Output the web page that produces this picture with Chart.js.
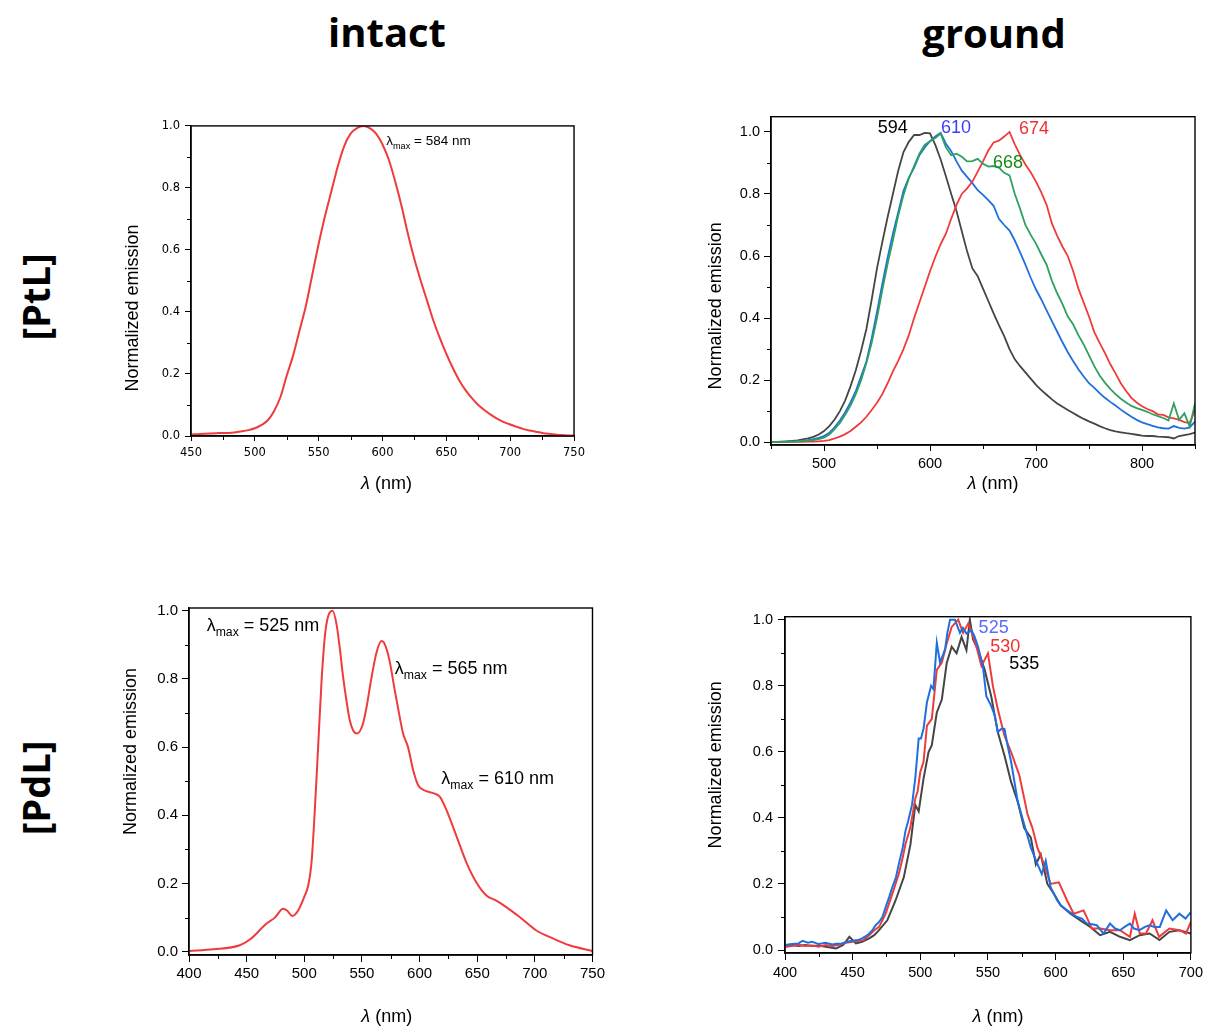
<!DOCTYPE html>
<html>
<head>
<meta charset="utf-8">
<script src="https://cdn.jsdelivr.net/npm/chart.js@4.4.0/dist/chart.umd.min.js"></script>
<style>
body { margin: 0; background: #fff; }
#page { position: relative; width: 1209px; height: 1030px; overflow: hidden; }
.head { position: absolute; font-family: "Open Sans", sans-serif; font-weight: 700; font-size: 40px; line-height: 1; transform: translate(-50%, -50%); white-space: nowrap; }
.row { position: absolute; font-family: "Open Sans", sans-serif; font-weight: 700; font-size: 38px; line-height: 1; transform: translate(-50%, -50%) rotate(-90deg); white-space: nowrap; }
canvas { position: absolute; }
</style>
</head>
<body>
<div id="page">
  <div class="head" style="left:387px;top:32px">intact</div>
  <div class="head" style="left:994px;top:33px">ground</div>
  <div class="row" style="left:35px;top:297px">[PtL]</div>
  <div class="row" style="left:35px;top:788px">[PdL]</div>
  <canvas id="c1" width="479" height="384" style="left:111px;top:114px"></canvas>
  <canvas id="c2" width="516" height="403" style="left:691px;top:104px"></canvas>
  <canvas id="c3" width="499" height="435" style="left:109px;top:595px"></canvas>
  <canvas id="c4" width="502" height="427" style="left:705px;top:603px"></canvas>
</div>
<script>
// ---- data ----
// [PtL] intact
const ptIntactNm = [450,455,460,465,470,475,480,485,490,495,500,505,510,515,520,525,530,535,540,545,550,555,560,565,570,575,580,585,590,595,600,605,610,615,620,625,630,635,640,645,650,655,660,665,670,675,680,685,690,695,700,705,710,715,720,725,730,735,740,745,750];
const ptIntactVal = [0.005,0.006,0.007,0.008,0.009,0.010,0.010,0.012,0.015,0.019,0.025,0.035,0.05,0.08,0.125,0.195,0.26,0.34,0.42,0.52,0.62,0.71,0.79,0.87,0.935,0.975,0.993,1.0,0.993,0.975,0.94,0.89,0.82,0.74,0.65,0.57,0.50,0.435,0.37,0.315,0.265,0.22,0.18,0.148,0.122,0.10,0.083,0.068,0.055,0.045,0.037,0.03,0.023,0.018,0.014,0.01,0.007,0.005,0.003,0.002,0.002];

// [PtL] ground
const ptGroundNm = [450,455,460,465,470,475,480,485,490,495,500,505,510,515,520,525,530,535,540,545,550,555,560,565,570,575,580,585,590,595,600,605,610,615,620,625,630,635,640,645,650,655,660,665,670,675,680,685,690,695,700,705,710,715,720,725,730,735,740,745,750,755,760,765,770,775,780,785,790,795,800,805,810,815,820,825,830,835,840,845,850];
const ptGroundBlack = [0.000,0.001,0.002,0.003,0.004,0.006,0.009,0.012,0.017,0.025,0.036,0.052,0.073,0.10,0.135,0.18,0.232,0.295,0.365,0.46,0.56,0.645,0.725,0.80,0.875,0.935,0.968,0.99,0.99,0.997,0.995,0.958,0.912,0.857,0.80,0.745,0.68,0.615,0.56,0.535,0.495,0.455,0.415,0.377,0.342,0.30,0.267,0.245,0.225,0.205,0.185,0.168,0.153,0.138,0.125,0.114,0.104,0.094,0.084,0.075,0.067,0.06,0.052,0.045,0.039,0.035,0.032,0.029,0.027,0.024,0.021,0.02,0.02,0.018,0.017,0.016,0.012,0.02,0.023,0.026,0.031];
const ptGroundBlue = [0.000,0.000,0.001,0.002,0.003,0.004,0.005,0.007,0.01,0.014,0.02,0.03,0.048,0.07,0.097,0.128,0.165,0.212,0.26,0.335,0.42,0.51,0.595,0.672,0.74,0.81,0.852,0.885,0.925,0.95,0.97,0.985,0.997,0.962,0.938,0.905,0.875,0.855,0.835,0.812,0.797,0.78,0.762,0.72,0.70,0.682,0.65,0.612,0.572,0.53,0.492,0.46,0.425,0.39,0.356,0.322,0.29,0.262,0.235,0.212,0.19,0.175,0.158,0.143,0.13,0.118,0.105,0.093,0.082,0.072,0.064,0.058,0.053,0.048,0.045,0.044,0.052,0.046,0.044,0.048,0.066];
const ptGroundGreen = [0.000,0.000,0.001,0.001,0.002,0.003,0.004,0.005,0.007,0.01,0.015,0.025,0.042,0.062,0.088,0.118,0.155,0.2,0.255,0.32,0.4,0.49,0.575,0.65,0.73,0.797,0.85,0.89,0.93,0.958,0.97,0.98,0.995,0.95,0.925,0.93,0.92,0.905,0.906,0.913,0.897,0.888,0.89,0.885,0.868,0.86,0.8,0.752,0.7,0.668,0.64,0.605,0.572,0.52,0.48,0.445,0.405,0.38,0.345,0.315,0.28,0.245,0.215,0.192,0.172,0.155,0.14,0.128,0.117,0.11,0.104,0.098,0.09,0.084,0.078,0.07,0.125,0.072,0.093,0.05,0.125];
const ptGroundRed = [0.000,0.000,0.000,0.000,0.001,0.001,0.001,0.002,0.002,0.003,0.004,0.007,0.012,0.018,0.026,0.036,0.05,0.064,0.082,0.104,0.127,0.155,0.19,0.228,0.262,0.3,0.345,0.4,0.45,0.5,0.551,0.597,0.638,0.672,0.72,0.765,0.8,0.818,0.84,0.872,0.905,0.94,0.966,0.972,0.985,1.0,0.96,0.925,0.895,0.87,0.84,0.805,0.765,0.705,0.665,0.63,0.6,0.552,0.495,0.45,0.405,0.355,0.32,0.288,0.252,0.222,0.19,0.165,0.143,0.128,0.116,0.107,0.1,0.09,0.088,0.08,0.077,0.072,0.065,0.062,0.103];

// [PdL] intact
const pdIntactNm = [400,421,444,454,467,474.5,481.7,485,489.5,494.7,500.5,503.4,506.3,509,512,515,518,520.7,524.5,528,530.8,533.7,536.6,539.5,542.4,545.8,550.5,554,558.3,562.6,567,569.8,574,578.5,582.8,585.7,590,594.4,598.7,603,611.7,617.5,623.2,632,640.6,649.3,658,666.6,675.2,686.8,701,715.7,730,750];
const pdIntactVal = [0.002,0.007,0.019,0.039,0.082,0.10,0.126,0.121,0.105,0.121,0.165,0.194,0.262,0.407,0.60,0.795,0.93,0.984,1.0,0.96,0.89,0.805,0.736,0.678,0.649,0.64,0.664,0.717,0.804,0.877,0.911,0.902,0.853,0.766,0.688,0.64,0.60,0.533,0.489,0.475,0.465,0.455,0.417,0.339,0.262,0.203,0.165,0.150,0.131,0.102,0.063,0.039,0.019,0.002];

// [PdL] ground
const pdGroundBlueNm = [400,405,410,413,417,420,425,430,435,438,442,446,450,454,457,461,464.6,467,469.5,472,474.4,477,479.3,482,484.1,487,489,491,493.9,496.3,498.8,500.5,502.4,504.9,508,509.7,512.2,514.6,518.3,520,522,525.6,529.3,531.5,534.1,537.8,540,542.7,546.3,548.8,552.4,555,557.3,560,562.2,564.5,567.1,572,576.8,581.7,586.6,589.8,592.7,596.3,601.2,604,608.5,612,615.9,619.5,623.2,627,630.5,635.4,640.2,644,647.6,651,654.9,658,662,666,669.5,673,677,681.7,686.5,691.5,696,700];
const pdGroundBlueVal = [0.015,0.018,0.02,0.028,0.022,0.025,0.018,0.022,0.017,0.019,0.02,0.025,0.028,0.03,0.035,0.045,0.06,0.075,0.085,0.1,0.13,0.16,0.19,0.22,0.26,0.31,0.36,0.39,0.44,0.52,0.64,0.64,0.67,0.75,0.80,0.79,0.93,0.87,0.91,0.96,1.0,1.0,0.96,0.975,0.958,0.968,0.95,0.918,0.858,0.768,0.739,0.71,0.66,0.67,0.669,0.62,0.57,0.45,0.38,0.31,0.26,0.23,0.27,0.19,0.15,0.135,0.12,0.11,0.10,0.095,0.08,0.078,0.075,0.05,0.08,0.065,0.06,0.07,0.08,0.065,0.06,0.07,0.075,0.07,0.07,0.12,0.09,0.11,0.095,0.115];
const pdGroundRedNm = [400,405,410,415,420,425,430,435,440,445,450,455,458,462.2,466,469.5,472,474.4,479.3,484.1,487,489,492.6,496.3,498,500,502.4,504.9,508.5,512.2,515.9,519.5,523.2,528,531.6,535.4,539,541.5,545.2,550,553.7,557.3,562.2,567.1,573.2,576.8,579.3,582.9,586.6,591.5,596.3,602.4,608.5,613.4,620.7,626.8,633,640.2,647.6,654.9,658.5,662.2,666.8,671.6,676.5,684.1,691.5,696.3,700];
const pdGroundRedVal = [0.01,0.012,0.016,0.012,0.014,0.01,0.015,0.012,0.016,0.022,0.025,0.028,0.03,0.045,0.06,0.07,0.09,0.11,0.17,0.23,0.28,0.32,0.37,0.459,0.48,0.539,0.57,0.679,0.70,0.848,0.87,0.928,0.978,1.0,0.96,0.988,0.95,0.918,0.86,0.898,0.798,0.729,0.649,0.599,0.529,0.459,0.41,0.369,0.309,0.259,0.20,0.205,0.15,0.11,0.12,0.065,0.065,0.06,0.06,0.04,0.11,0.05,0.05,0.09,0.04,0.065,0.06,0.05,0.085];
const pdGroundBlackNm = [400,405,410,415,420,425,430,437.8,443,447.6,452.4,457,462.2,466,469.5,475.6,481.7,487.8,492.7,496.3,498.8,502.4,506.1,508.5,512.2,515.9,519.5,523.2,526.8,530.5,534.1,536.6,539,542.7,547.6,552.4,557.3,562.2,567.1,572,576.8,581.7,585.4,589,593.9,598.8,603.7,611,618.3,625.6,632.9,640.2,647.6,654.9,662.2,669.5,676.8,684.1,691.5,700];
const pdGroundBlackVal = [0.01,0.015,0.012,0.015,0.012,0.014,0.01,0.005,0.015,0.04,0.02,0.025,0.035,0.045,0.06,0.09,0.15,0.22,0.319,0.439,0.42,0.519,0.599,0.62,0.719,0.758,0.868,0.918,0.898,0.948,0.908,1.0,0.94,0.908,0.848,0.768,0.659,0.589,0.509,0.449,0.369,0.34,0.259,0.29,0.20,0.17,0.135,0.11,0.09,0.07,0.045,0.055,0.04,0.03,0.045,0.05,0.03,0.055,0.06,0.05];

// ticks
const yTicks = [0, 0.2, 0.4, 0.6, 0.8, 1.0];
const yMinor = [0.1, 0.3, 0.5, 0.7, 0.9];
const ptIntactXTicks = [450, 500, 550, 600, 650, 700, 750];
const ptIntactXMinor = [475, 525, 575, 625, 675, 725];
const ptGroundXTicks = [500, 600, 700, 800];
const ptGroundXMinor = [450, 550, 650, 750, 850];
const pdIntactXTicks = [400, 450, 500, 550, 600, 650, 700, 750];
const pdIntactXMinor = [425, 475, 525, 575, 625, 675, 725];
const pdGroundXTicks = [400, 450, 500, 550, 600, 650, 700];
const pdGroundXMinor = [425, 475, 525, 575, 625, 675];

// peak labels (x in nm, y in normalized units)
const ptIntactNotes = [{x: 602.9, y: 0.938, lead: 'λ', sub: 'max', text: ' = 584 nm', color: '#000', size: 13.5}];
const ptGroundNotes = [
  {x: 564.8, y: 0.995, text: '594', color: '#000', size: 18},
  {x: 624.5, y: 0.998, text: '610', color: '#3c3cff', size: 18},
  {x: 698.1, y: 0.992, text: '674', color: '#f03030', size: 18},
  {x: 673.6, y: 0.883, text: '668', color: '#168a16', size: 18}
];
const pdIntactNotes = [
  {x: 415.3, y: 0.940, lead: 'λ', sub: 'max', text: ' = 525 nm', color: '#000', size: 18},
  {x: 578.5, y: 0.814, lead: 'λ', sub: 'max', text: ' = 565 nm', color: '#000', size: 18},
  {x: 618.9, y: 0.492, lead: 'λ', sub: 'max', text: ' = 610 nm', color: '#000', size: 18}
];
const pdGroundNotes = [
  {x: 554.2, y: 0.960, text: '525', color: '#5a6aff', size: 18},
  {x: 562.8, y: 0.903, text: '530', color: '#f03030', size: 18},
  {x: 576.9, y: 0.851, text: '535', color: '#000', size: 18}
];

const RED = '#ef3b3b', BLUE = '#1f6fde', GREEN = '#2ea15e', BLACK = '#454545';
const SANS = '"Liberation Sans", Arial, sans-serif';
Chart.defaults.font.family = SANS;

function series(nm, vals) {
  return nm.map((x, i) => ({x: x, y: vals[i]}));
}

// box, minor ticks, axis titles and peak labels
const framePlugin = {
  id: 'frame',
  afterDraw(chart, args, o) {
    const ctx = chart.ctx, a = chart.chartArea;
    const sx = chart.scales.x, sy = chart.scales.y;
    ctx.save();
    ctx.strokeStyle = '#000';
    ctx.lineWidth = 1;
    ctx.beginPath();
    o.minorX.forEach(v => {
      const p = Math.round(sx.getPixelForValue(v)) + 0.5;
      ctx.moveTo(p, a.bottom); ctx.lineTo(p, a.bottom + 4);
    });
    o.minorY.forEach(v => {
      const p = Math.round(sy.getPixelForValue(v)) + 0.5;
      ctx.moveTo(a.left, p); ctx.lineTo(a.left - 4, p);
    });
    ctx.stroke();
    ctx.lineWidth = 1.4;
    ctx.strokeRect(a.left, a.top, a.right - a.left, a.bottom - a.top);

    // y title
    ctx.fillStyle = '#000';
    ctx.font = o.yFont + 'px ' + SANS;
    ctx.textAlign = 'center';
    ctx.textBaseline = 'middle';
    ctx.save();
    ctx.translate(a.left + o.yDx, (a.top + a.bottom) / 2 + o.yDy);
    ctx.rotate(-Math.PI / 2);
    ctx.fillText('Normalized emission', 0, 0);
    ctx.restore();

    // x title, italic lambda
    const xf = o.xFont;
    ctx.font = 'italic ' + xf + 'px ' + SANS;
    const w1 = ctx.measureText('λ').width;
    ctx.font = xf + 'px ' + SANS;
    const w2 = ctx.measureText(' (nm)').width;
    const x0 = (a.left + a.right) / 2 + o.xDx - (w1 + w2) / 2;
    const yT = a.bottom + o.xDy;
    ctx.textAlign = 'left';
    ctx.font = 'italic ' + xf + 'px ' + SANS;
    ctx.fillText('λ', x0, yT);
    ctx.font = xf + 'px ' + SANS;
    ctx.fillText(' (nm)', x0 + w1, yT);

    // peak labels
    ctx.textBaseline = 'alphabetic';
    o.notes.forEach(n => {
      const px = sx.getPixelForValue(n.x), py = sy.getPixelForValue(n.y);
      const f = n.size + 'px ' + SANS;
      ctx.fillStyle = n.color;
      if (n.sub) {
        ctx.textAlign = 'left';
        ctx.font = f;
        ctx.fillText(n.lead, px, py);
        let w = ctx.measureText(n.lead).width;
        ctx.font = (n.size * 0.68) + 'px ' + SANS;
        ctx.fillText(n.sub, px + w, py + n.size * 0.28);
        w += ctx.measureText(n.sub).width;
        ctx.font = f;
        ctx.fillText(n.text, px + w, py);
      } else {
        ctx.textAlign = 'center';
        ctx.font = f;
        ctx.fillText(n.text, px, py);
      }
    });
    ctx.restore();
  }
};

function axis(p, horizontal) {
  return {
    type: 'linear',
    min: p.min, max: p.max,
    afterBuildTicks: s => { s.ticks = p.ticks.map(v => ({value: v})); },
    afterFit: s => { if (horizontal) s.height = p.size; else s.width = p.size; },
    ticks: {
      callback: p.fmt, color: '#000', padding: p.pad, maxRotation: 0, autoSkip: false,
      font: {family: p.family || SANS, size: p.font}
    },
    grid: {drawOnChartArea: false, drawTicks: true, tickLength: p.tick, tickColor: '#000', tickWidth: 1},
    border: {display: true, color: '#000', width: 1.4},
    title: {display: false}
  };
}

function makePanel(id, cfg) {
  return new Chart(document.getElementById(id), {
    type: 'line',
    data: {datasets: cfg.datasets.map(d => ({
      data: d.data, borderColor: d.color, borderWidth: cfg.lineWidth, pointRadius: 0,
      fill: false, tension: cfg.smooth ? 0.3 : 0, cubicInterpolationMode: cfg.smooth ? 'monotone' : 'default'
    }))},
    options: {
      responsive: false, animation: false, devicePixelRatio: 1,
      layout: {padding: {left: 0, top: cfg.padTop, right: cfg.padRight, bottom: 0}, autoPadding: false},
      plugins: {legend: {display: false}, tooltip: {enabled: false}, frame: cfg.frame},
      scales: {x: axis(cfg.x, true), y: axis(cfg.y, false)}
    },
    plugins: [framePlugin]
  });
}

const fmtY = v => v.toFixed(1);
const fmtX = v => String(v);

makePanel('c1', {
  smooth: true, lineWidth: 2, padTop: 10, padRight: 15,
  datasets: [{data: series(ptIntactNm, ptIntactVal), color: RED}],
  x: {min: 450, max: 750, ticks: ptIntactXTicks, fmt: fmtX, font: 11.5, family: '"DejaVu Sans", sans-serif', pad: 5, tick: 5, size: 62},
  y: {min: 0, max: 1.0, ticks: yTicks, fmt: fmtY, font: 11.5, family: '"DejaVu Sans", sans-serif', pad: 5, tick: 6, size: 80},
  frame: {minorX: ptIntactXMinor, minorY: yMinor, yFont: 18, yDx: -58, yDy: 27, xFont: 18, xDx: 4, xDy: 48, notes: ptIntactNotes}
});

makePanel('c2', {
  smooth: false, lineWidth: 1.8, padTop: 10, padRight: 12,
  datasets: [
    {data: series(ptGroundNm, ptGroundGreen), color: GREEN},
    {data: series(ptGroundNm, ptGroundRed), color: RED},
    {data: series(ptGroundNm, ptGroundBlue), color: BLUE},
    {data: series(ptGroundNm, ptGroundBlack), color: BLACK}
  ],
  x: {min: 450, max: 850, ticks: ptGroundXTicks, fmt: fmtX, font: 14.5, pad: 4, tick: 6, size: 62},
  y: {min: -0.009, max: 1.049, ticks: yTicks, fmt: fmtY, font: 14.5, pad: 4, tick: 7, size: 80},
  frame: {minorX: ptGroundXMinor, minorY: yMinor, yFont: 18, yDx: -55, yDy: 25, xFont: 18, xDx: 10, xDy: 39, notes: ptGroundNotes}
});

makePanel('c3', {
  smooth: true, lineWidth: 2, padTop: 10, padRight: 15,
  datasets: [{data: series(pdIntactNm, pdIntactVal), color: RED}],
  x: {min: 400, max: 750, ticks: pdIntactXTicks, fmt: fmtX, font: 15, pad: 3, tick: 7, size: 75},
  y: {min: -0.0096, max: 1.008, ticks: yTicks, fmt: fmtY, font: 15, pad: 4, tick: 7, size: 80},
  frame: {minorX: pdIntactXMinor, minorY: yMinor, yFont: 18, yDx: -58, yDy: -30, xFont: 18, xDx: -4, xDy: 62, notes: pdIntactNotes}
});

makePanel('c4', {
  smooth: false, lineWidth: 2, padTop: 10, padRight: 12,
  datasets: [
    {data: series(pdGroundBlueNm, pdGroundBlueVal), color: BLUE},
    {data: series(pdGroundRedNm, pdGroundRedVal), color: RED},
    {data: series(pdGroundBlackNm, pdGroundBlackVal), color: BLACK}
  ],
  x: {min: 400, max: 700, ticks: pdGroundXTicks, fmt: fmtX, font: 14.5, pad: 4, tick: 7, size: 77},
  y: {min: -0.009, max: 1.009, ticks: yTicks, fmt: fmtY, font: 14.5, pad: 5, tick: 7, size: 80},
  frame: {minorX: pdGroundXMinor, minorY: yMinor, yFont: 18, yDx: -69, yDy: -20, xFont: 18, xDx: 10, xDy: 64, notes: pdGroundNotes}
});
</script>
</body>
</html>
